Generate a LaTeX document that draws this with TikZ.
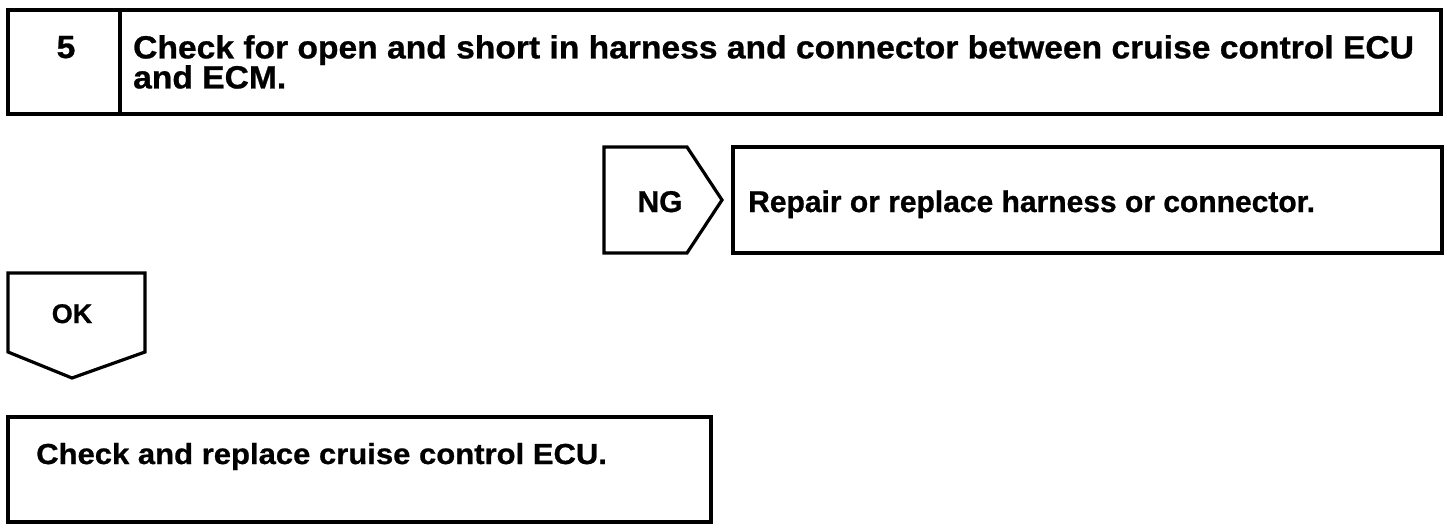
\documentclass[tikz,border=0pt]{standalone}
\usepackage{fontspec}
\setmainfont{Liberation Sans}[BoldFeatures={FakeBold=0.8}]
\newfontfamily\titlefont[FakeStretch=1.05,BoldFeatures={FakeBold=0.8}]{Liberation Sans}
\newfontfamily\bodyfont[FakeStretch=1.07,BoldFeatures={FakeBold=0.8}]{Liberation Sans}
\begin{document}
\begin{tikzpicture}[x=1pt,y=-1pt,
  frame/.style={draw=black,line width=3.2pt,line join=miter},
  ttl/.style={inner sep=0pt,font=\titlefont\bfseries\fontsize{32}{30}\selectfont},
  body/.style={inner sep=0pt,font=\bodyfont\bfseries\fontsize{29}{30}\selectfont},
  tag/.style={inner sep=0pt,font=\bfseries\fontsize{30}{30}\selectfont}]
\useasboundingbox (0,0) rectangle (1456,532);
% top step box
\draw[frame] (8,10) rectangle (1441,114);
\draw[frame] (120,10) -- (120,114);
\node[ttl,anchor=base] (num) at (66,58) {5};
\node[ttl,anchor=north west,align=left] (title) at (133,35)
  {Check for open and short in harness and connector between cruise control ECU\\and ECM.};
% NG branch
\draw[frame] (604,147) -- (687,147) -- (722,200) -- (687,253) -- (604,253) -- cycle;
\node[tag,anchor=base] (ng) at (660,212) {NG};
\draw[frame] (733,147) rectangle (1442,253);
\node[tag,anchor=base west] (repair) at (748,212) {Repair or replace harness or connector.};
% OK branch
\draw[frame] (8,273) -- (145,273) -- (145,352) -- (72,378) -- (8,352) -- cycle;
\node[tag,anchor=base,font=\bfseries\fontsize{27}{27}\selectfont] (ok) at (72,323) {OK};
% result box
\draw[frame] (8,417) rectangle (711,522);
\node[body,anchor=base west] (result) at (36,464) {Check and replace cruise control ECU.};
\end{tikzpicture}
\end{document}
